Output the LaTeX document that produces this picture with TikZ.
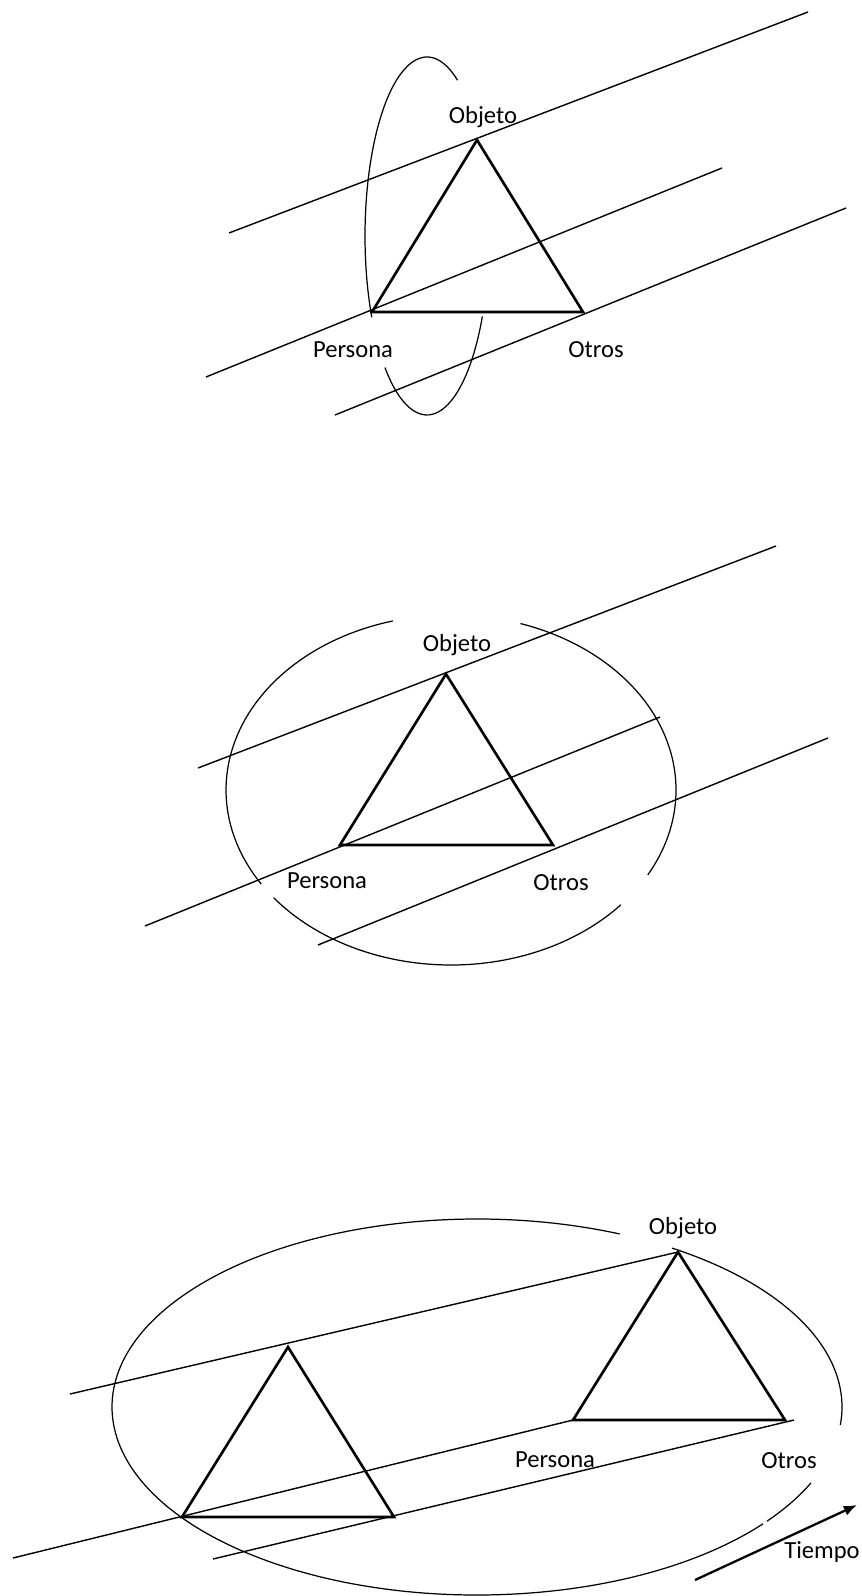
\documentclass[tikz,border=0pt]{standalone}
\usepackage{fontspec}
\setmainfont{Carlito}
\usetikzlibrary{arrows.meta}

\tikzset{
	linea/.style={line width=0.8pt},
	triang/.style={line width=1.5pt, line join=miter},
	elipse/.style={line width=0.7pt},
	etiq/.style={font=\fontsize{14}{16}\selectfont, inner sep=0pt},
	flecha/.style={line width=1.3pt, -{Latex[length=7.5pt, width=6pt]}}
}

\begin{document}
\begin{tikzpicture}[x=0.2mm, y=-0.2mm]

\useasboundingbox (0,0) rectangle (861,1596);

% Primer esquema
\coordinate (O1) at (477,140);
\coordinate (P1) at (372,312);
\coordinate (T1) at (583,312);

	\foreach \a/\b in {-60.5/-207, 132.7/26.7}
		\draw[elipse] (427,236) ++(\a:62 and 179) arc[start angle=\a, end angle=\b, x radius=62, y radius=179];

\coordinate (a1) at (229,233);  \coordinate (b1) at (808,12);
\coordinate (c1) at (206,377);  \coordinate (d1) at (722,168);
\coordinate (e1) at (335,415);  \coordinate (f1) at (846,208);
	\draw[linea] (a1) -- (b1);
	\draw[linea] (c1) -- (d1);
	\draw[linea] (e1) -- (f1);

\draw[triang] (O1) -- (P1) -- (T1) -- cycle;

\node[etiq] (obj1) at (483,117) {Objeto};
\node[etiq] (per1) at (353,350) {Persona};
\node[etiq] (otr1) at (596,350) {Otros};

% Segundo esquema
\coordinate (O2) at (446,674);
\coordinate (P2) at (340,845);
\coordinate (T2) at (553,845);

	\foreach \a/\b in {-72/29, 41/142, 147.5/255}
		\draw[elipse] (451,790) ++(\a:225 and 175) arc[start angle=\a, end angle=\b, x radius=225, y radius=175];

\coordinate (a2) at (198,768);  \coordinate (b2) at (776,546);
\coordinate (c2) at (145,926);  \coordinate (d2) at (660,717);
\coordinate (e2) at (318,945);  \coordinate (f2) at (828,738);
	\draw[linea] (a2) -- (b2);
	\draw[linea] (c2) -- (d2);
	\draw[linea] (e2) -- (f2);

\draw[triang] (O2) -- (P2) -- (T2) -- cycle;

\node[etiq] (obj2) at (457,645) {Objeto};
\node[etiq] (per2) at (327,881) {Persona};
\node[etiq] (otr2) at (561,883) {Otros};

% Tercer esquema
\coordinate (O3) at (288,1347);
\coordinate (P3) at (182,1517);
\coordinate (T3) at (394,1517);
\coordinate (O4) at (678,1252);
\coordinate (P4) at (573,1420);
\coordinate (T4) at (785,1420);

	\foreach \a/\b in {-57.7/5.5, 23.8/37.4, 38.4/293}
		\draw[elipse] (477,1407) ++(\a:365 and 188) arc[start angle=\a, end angle=\b, x radius=365, y radius=188];

\coordinate (a3) at (70,1394);
\coordinate (c3) at (13,1558);
\coordinate (e3) at (213,1559);  \coordinate (f3) at (794,1420);
	\draw[linea] (a3) -- (O4);
	\draw[linea] (c3) -- (P4);
	\draw[linea] (e3) -- (f3);

\draw[triang] (O3) -- (P3) -- (T3) -- cycle;
\draw[triang] (O4) -- (P4) -- (T4) -- cycle;

\node[etiq] (obj3) at (683,1228) {Objeto};
\node[etiq] (per3) at (555,1460) {Persona};
\node[etiq] (otr3) at (789,1461) {Otros};
\node[etiq] (tie3) at (822,1552) {Tiempo};

\coordinate (cola) at (695,1580);
\coordinate (punta) at (857,1505);
\draw[flecha] (cola) -- (punta);

\end{tikzpicture}
\end{document}
